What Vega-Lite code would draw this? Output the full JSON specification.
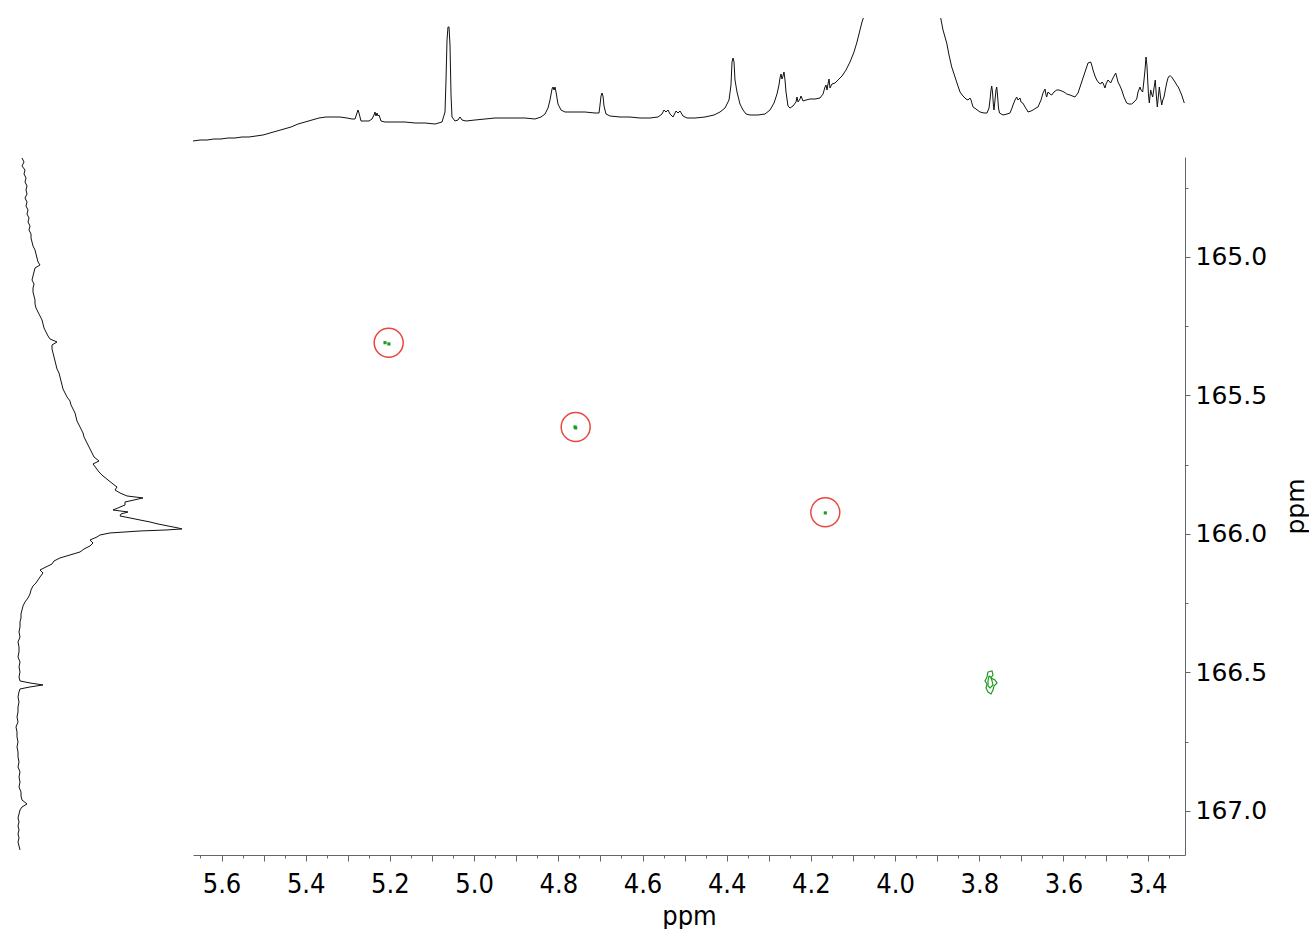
{
"$schema": "https://vega.github.io/schema/vega-lite/v6.json",
"padding": {"left": 0, "top": 18, "right": 0, "bottom": 0},
"background": "white",
"config": {"view": {"stroke": null}, "axis": {"domainWidth": 1, "tickWidth": 1, "grid": false}},
"datasets": {
"top": [
{"h":5.6677,"i":9},{"h":5.6510,"i":10},{"h":5.6344,"i":10},{"h":5.6178,"i":11},{"h":5.6012,"i":11},{"h":5.5845,"i":12},{"h":5.5679,"i":12},{"h":5.5513,"i":13},{"h":5.5347,"i":13},{"h":5.5180,"i":14},{"h":5.5014,"i":15},{"h":5.4848,"i":17},{"h":5.4681,"i":19},{"h":5.4515,"i":21},{"h":5.4349,"i":23},{"h":5.4183,"i":26},{"h":5.4016,"i":28},{"h":5.3850,"i":30},{"h":5.3684,"i":32},{"h":5.3518,"i":33},{"h":5.3351,"i":33},{"h":5.3185,"i":33},{"h":5.3019,"i":32},{"h":5.2900,"i":31},{"h":5.2829,"i":31},{"h":5.2781,"i":37},{"h":5.2757,"i":40},{"h":5.2734,"i":37},{"h":5.2686,"i":29},{"h":5.2591,"i":29},{"h":5.2496,"i":29},{"h":5.2425,"i":31},{"h":5.2377,"i":35},{"h":5.2354,"i":38},{"h":5.2330,"i":34},{"h":5.2306,"i":37},{"h":5.2282,"i":34},{"h":5.2259,"i":35},{"h":5.2211,"i":29},{"h":5.2116,"i":28},{"h":5.1879,"i":28},{"h":5.1641,"i":28},{"h":5.1404,"i":27},{"h":5.1166,"i":27},{"h":5.0928,"i":26},{"h":5.0762,"i":28},{"h":5.0691,"i":38},{"h":5.0667,"i":70},{"h":5.0643,"i":110},{"h":5.0620,"i":123},{"h":5.0596,"i":123},{"h":5.0572,"i":105},{"h":5.0548,"i":55},{"h":5.0525,"i":33},{"h":5.0453,"i":29},{"h":5.0382,"i":30},{"h":5.0335,"i":33},{"h":5.0287,"i":30},{"h":5.0192,"i":29},{"h":4.9978,"i":30},{"h":4.9741,"i":31},{"h":4.9503,"i":32},{"h":4.9266,"i":32},{"h":4.9028,"i":32},{"h":4.8791,"i":32},{"h":4.8553,"i":31},{"h":4.8411,"i":33},{"h":4.8316,"i":36},{"h":4.8244,"i":42},{"h":4.8197,"i":50},{"h":4.8149,"i":61},{"h":4.8126,"i":63},{"h":4.8102,"i":60},{"h":4.8078,"i":63},{"h":4.8054,"i":58},{"h":4.8007,"i":46},{"h":4.7936,"i":40},{"h":4.7841,"i":38},{"h":4.7603,"i":38},{"h":4.7366,"i":38},{"h":4.7128,"i":37},{"h":4.7033,"i":37},{"h":4.7009,"i":45},{"h":4.6985,"i":54},{"h":4.6962,"i":57},{"h":4.6938,"i":54},{"h":4.6914,"i":44},{"h":4.6867,"i":36},{"h":4.6772,"i":34},{"h":4.6534,"i":33},{"h":4.6297,"i":33},{"h":4.6059,"i":32},{"h":4.5822,"i":32},{"h":4.5632,"i":33},{"h":4.5537,"i":36},{"h":4.5489,"i":40},{"h":4.5442,"i":38},{"h":4.5394,"i":40},{"h":4.5347,"i":36},{"h":4.5275,"i":33},{"h":4.5204,"i":39},{"h":4.5157,"i":37},{"h":4.5109,"i":39},{"h":4.5038,"i":34},{"h":4.4943,"i":32},{"h":4.4753,"i":32},{"h":4.4515,"i":33},{"h":4.4301,"i":35},{"h":4.4159,"i":38},{"h":4.4040,"i":42},{"h":4.3945,"i":50},{"h":4.3898,"i":65},{"h":4.3874,"i":88},{"h":4.3850,"i":92},{"h":4.3826,"i":88},{"h":4.3803,"i":70},{"h":4.3755,"i":58},{"h":4.3684,"i":46},{"h":4.3613,"i":40},{"h":4.3541,"i":36},{"h":4.3446,"i":35},{"h":4.3256,"i":35},{"h":4.3090,"i":36},{"h":4.2971,"i":40},{"h":4.2876,"i":47},{"h":4.2805,"i":56},{"h":4.2758,"i":65},{"h":4.2734,"i":72},{"h":4.2710,"i":76},{"h":4.2686,"i":71},{"h":4.2662,"i":74},{"h":4.2639,"i":78},{"h":4.2615,"i":70},{"h":4.2591,"i":58},{"h":4.2544,"i":44},{"h":4.2496,"i":42},{"h":4.2425,"i":44},{"h":4.2354,"i":48},{"h":4.2330,"i":53},{"h":4.2306,"i":48},{"h":4.2259,"i":51},{"h":4.2235,"i":54},{"h":4.2187,"i":49},{"h":4.2116,"i":50},{"h":4.2021,"i":51},{"h":4.1902,"i":51},{"h":4.1784,"i":52},{"h":4.1712,"i":56},{"h":4.1665,"i":63},{"h":4.1641,"i":65},{"h":4.1617,"i":60},{"h":4.1594,"i":66},{"h":4.1570,"i":71},{"h":4.1546,"i":62},{"h":4.1499,"i":66},{"h":4.1427,"i":67},{"h":4.1356,"i":70},{"h":4.1261,"i":74},{"h":4.1166,"i":80},{"h":4.1071,"i":88},{"h":4.0976,"i":98},{"h":4.0905,"i":108},{"h":4.0834,"i":120},{"h":4.0786,"i":128},{"h":4.0738,"i":134},{"h":4.0596,"i":200},{"h":3.9883,"i":350},{"h":3.9052,"i":200},{"h":3.8917,"i":132},{"h":3.8862,"i":120},{"h":3.8774,"i":107},{"h":3.8719,"i":95},{"h":3.8655,"i":83},{"h":3.8577,"i":73},{"h":3.8506,"i":64},{"h":3.8458,"i":58},{"h":3.8387,"i":54},{"h":3.8316,"i":51},{"h":3.8268,"i":50},{"h":3.8221,"i":52},{"h":3.8197,"i":50},{"h":3.8149,"i":43},{"h":3.8078,"i":41},{"h":3.7983,"i":38},{"h":3.7888,"i":37},{"h":3.7817,"i":37},{"h":3.7769,"i":42},{"h":3.7746,"i":50},{"h":3.7722,"i":60},{"h":3.7705,"i":64},{"h":3.7686,"i":58},{"h":3.7667,"i":46},{"h":3.7651,"i":40},{"h":3.7627,"i":50},{"h":3.7603,"i":60},{"h":3.7586,"i":63},{"h":3.7567,"i":55},{"h":3.7544,"i":42},{"h":3.7520,"i":37},{"h":3.7437,"i":35},{"h":3.7342,"i":36},{"h":3.7271,"i":37},{"h":3.7223,"i":42},{"h":3.7199,"i":45},{"h":3.7152,"i":50},{"h":3.7112,"i":53},{"h":3.7081,"i":50},{"h":3.7033,"i":52},{"h":3.7009,"i":48},{"h":3.6969,"i":47},{"h":3.6938,"i":45},{"h":3.6914,"i":43},{"h":3.6867,"i":40},{"h":3.6843,"i":38},{"h":3.6772,"i":39},{"h":3.6724,"i":40},{"h":3.6653,"i":42},{"h":3.6606,"i":43},{"h":3.6534,"i":50},{"h":3.6487,"i":57},{"h":3.6439,"i":61},{"h":3.6415,"i":55},{"h":3.6399,"i":53},{"h":3.6368,"i":58},{"h":3.6320,"i":56},{"h":3.6280,"i":55},{"h":3.6226,"i":58},{"h":3.6161,"i":60},{"h":3.6107,"i":60},{"h":3.6043,"i":59},{"h":3.5988,"i":58},{"h":3.5924,"i":56},{"h":3.5846,"i":55},{"h":3.5727,"i":53},{"h":3.5655,"i":57},{"h":3.5608,"i":63},{"h":3.5560,"i":69},{"h":3.5513,"i":75},{"h":3.5465,"i":81},{"h":3.5418,"i":87},{"h":3.5354,"i":88},{"h":3.5323,"i":84},{"h":3.5299,"i":80},{"h":3.5252,"i":74},{"h":3.5211,"i":70},{"h":3.5157,"i":67},{"h":3.5116,"i":66},{"h":3.5085,"i":68},{"h":3.5062,"i":67},{"h":3.5014,"i":62},{"h":3.4990,"i":66},{"h":3.4943,"i":70},{"h":3.4879,"i":67},{"h":3.4848,"i":70},{"h":3.4824,"i":72},{"h":3.4760,"i":77},{"h":3.4729,"i":72},{"h":3.4705,"i":68},{"h":3.4658,"i":64},{"h":3.4617,"i":60},{"h":3.4563,"i":53},{"h":3.4499,"i":47},{"h":3.4444,"i":46},{"h":3.4380,"i":46},{"h":3.4325,"i":48},{"h":3.4261,"i":51},{"h":3.4230,"i":58},{"h":3.4183,"i":63},{"h":3.4159,"i":60},{"h":3.4119,"i":58},{"h":3.4088,"i":70},{"h":3.4064,"i":80},{"h":3.4040,"i":93},{"h":3.4017,"i":84},{"h":3.4000,"i":70},{"h":3.3981,"i":55},{"h":3.3962,"i":47},{"h":3.3945,"i":54},{"h":3.3929,"i":60},{"h":3.3905,"i":56},{"h":3.3881,"i":53},{"h":3.3850,"i":62},{"h":3.3820,"i":70},{"h":3.3796,"i":55},{"h":3.3772,"i":43},{"h":3.3748,"i":53},{"h":3.3724,"i":63},{"h":3.3696,"i":53},{"h":3.3667,"i":45},{"h":3.3641,"i":50},{"h":3.3613,"i":53},{"h":3.3582,"i":60},{"h":3.3549,"i":67},{"h":3.3518,"i":72},{"h":3.3487,"i":74},{"h":3.3458,"i":74},{"h":3.3430,"i":73},{"h":3.3399,"i":71},{"h":3.3351,"i":68},{"h":3.3311,"i":65},{"h":3.3273,"i":63},{"h":3.3233,"i":59},{"h":3.3192,"i":55},{"h":3.3162,"i":51},{"h":3.3131,"i":47}
],
"left": [
{"c":164.6426,"i":22},{"c":164.6570,"i":24},{"c":164.6715,"i":22},{"c":164.6859,"i":25},{"c":164.7004,"i":24},{"c":164.7148,"i":26},{"c":164.7292,"i":25},{"c":164.7437,"i":27},{"c":164.7581,"i":26},{"c":164.7726,"i":27},{"c":164.7870,"i":25},{"c":164.8014,"i":27},{"c":164.8159,"i":26},{"c":164.8303,"i":28},{"c":164.8448,"i":27},{"c":164.8592,"i":29},{"c":164.8736,"i":28},{"c":164.8881,"i":30},{"c":164.9025,"i":29},{"c":164.9170,"i":31},{"c":164.9314,"i":31},{"c":164.9458,"i":32},{"c":164.9603,"i":33},{"c":164.9747,"i":35},{"c":164.9892,"i":36},{"c":165.0036,"i":37},{"c":165.0181,"i":38},{"c":165.0289,"i":40},{"c":165.0397,"i":35},{"c":165.0542,"i":34},{"c":165.0686,"i":33},{"c":165.0830,"i":32},{"c":165.0975,"i":34},{"c":165.1119,"i":33},{"c":165.1264,"i":33},{"c":165.1408,"i":34},{"c":165.1552,"i":35},{"c":165.1697,"i":35},{"c":165.1841,"i":36},{"c":165.1986,"i":38},{"c":165.2130,"i":40},{"c":165.2274,"i":42},{"c":165.2419,"i":43},{"c":165.2563,"i":44},{"c":165.2708,"i":46},{"c":165.2852,"i":48},{"c":165.2960,"i":50},{"c":165.3069,"i":57},{"c":165.3177,"i":52},{"c":165.3321,"i":52},{"c":165.3466,"i":53},{"c":165.3610,"i":54},{"c":165.3755,"i":55},{"c":165.3899,"i":56},{"c":165.4043,"i":57},{"c":165.4188,"i":59},{"c":165.4332,"i":60},{"c":165.4477,"i":61},{"c":165.4621,"i":62},{"c":165.4765,"i":63},{"c":165.4910,"i":65},{"c":165.5054,"i":67},{"c":165.5199,"i":70},{"c":165.5343,"i":71},{"c":165.5487,"i":73},{"c":165.5632,"i":75},{"c":165.5776,"i":76},{"c":165.5921,"i":77},{"c":165.6065,"i":79},{"c":165.6209,"i":81},{"c":165.6354,"i":83},{"c":165.6498,"i":84},{"c":165.6643,"i":86},{"c":165.6787,"i":88},{"c":165.6931,"i":90},{"c":165.7076,"i":92},{"c":165.7220,"i":94},{"c":165.7365,"i":99},{"c":165.7473,"i":93},{"c":165.7617,"i":96},{"c":165.7762,"i":99},{"c":165.7906,"i":103},{"c":165.8051,"i":108},{"c":165.8195,"i":113},{"c":165.8303,"i":117},{"c":165.8412,"i":115},{"c":165.8520,"i":120},{"c":165.8628,"i":127},{"c":165.8700,"i":143},{"c":165.8773,"i":134},{"c":165.8845,"i":125},{"c":165.8953,"i":125},{"c":165.9061,"i":118},{"c":165.9134,"i":113},{"c":165.9206,"i":128},{"c":165.9278,"i":121},{"c":165.9350,"i":120},{"c":165.9422,"i":130},{"c":165.9495,"i":140},{"c":165.9567,"i":150},{"c":165.9639,"i":158},{"c":165.9711,"i":168},{"c":165.9783,"i":178},{"c":165.9819,"i":182},{"c":165.9856,"i":166},{"c":165.9892,"i":140},{"c":165.9928,"i":125},{"c":165.9964,"i":110},{"c":166.0036,"i":100},{"c":166.0108,"i":97},{"c":166.0217,"i":90},{"c":166.0325,"i":93},{"c":166.0433,"i":90},{"c":166.0542,"i":84},{"c":166.0650,"i":80},{"c":166.0758,"i":70},{"c":166.0866,"i":60},{"c":166.0975,"i":54},{"c":166.1083,"i":52},{"c":166.1191,"i":46},{"c":166.1300,"i":40},{"c":166.1408,"i":43},{"c":166.1552,"i":40},{"c":166.1661,"i":38},{"c":166.1769,"i":36},{"c":166.1877,"i":33},{"c":166.2022,"i":31},{"c":166.2166,"i":30},{"c":166.2310,"i":28},{"c":166.2455,"i":25},{"c":166.2599,"i":23},{"c":166.2744,"i":22},{"c":166.2888,"i":21},{"c":166.3032,"i":21},{"c":166.3177,"i":20},{"c":166.3357,"i":20},{"c":166.3538,"i":19},{"c":166.3718,"i":20},{"c":166.3899,"i":18},{"c":166.4079,"i":19},{"c":166.4260,"i":19},{"c":166.4440,"i":18},{"c":166.4621,"i":20},{"c":166.4801,"i":19},{"c":166.4982,"i":20},{"c":166.5162,"i":19},{"c":166.5307,"i":20},{"c":166.5379,"i":30},{"c":166.5451,"i":43},{"c":166.5523,"i":30},{"c":166.5596,"i":20},{"c":166.5704,"i":19},{"c":166.5884,"i":18},{"c":166.6065,"i":19},{"c":166.6245,"i":18},{"c":166.6426,"i":18},{"c":166.6606,"i":17},{"c":166.6787,"i":18},{"c":166.6967,"i":16},{"c":166.7148,"i":17},{"c":166.7328,"i":17},{"c":166.7509,"i":18},{"c":166.7689,"i":17},{"c":166.7870,"i":18},{"c":166.8051,"i":18},{"c":166.8231,"i":19},{"c":166.8412,"i":18},{"c":166.8592,"i":20},{"c":166.8773,"i":19},{"c":166.8953,"i":20},{"c":166.9134,"i":19},{"c":166.9314,"i":21},{"c":166.9458,"i":21},{"c":166.9603,"i":22},{"c":166.9747,"i":27},{"c":166.9856,"i":22},{"c":166.9964,"i":20},{"c":167.0108,"i":19},{"c":167.0253,"i":18},{"c":167.0397,"i":19},{"c":167.0542,"i":18},{"c":167.0686,"i":19},{"c":167.0830,"i":18},{"c":167.0975,"i":19},{"c":167.1119,"i":18},{"c":167.1264,"i":19},{"c":167.1408,"i":20}
],
"peaks": [
{"h":5.2116,"c":165.3094},{"h":5.2024,"c":165.3140},{"h":4.7603,"c":165.6137},{"h":4.7587,"c":165.6170},{"h":4.1658,"c":165.9240}
],
"circles": [
{"h":5.2029,"c":165.3094},{"h":4.7587,"c":165.6137},{"h":4.1658,"c":165.9217}
],
"contour": [
{"ring":"outer","k":1,"h":3.7793,"c":166.4982},{"ring":"outer","k":2,"h":3.7698,"c":166.4946},{"ring":"outer","k":3,"h":3.7675,"c":166.5090},{"ring":"outer","k":4,"h":3.7722,"c":166.5199},{"ring":"outer","k":5,"h":3.7627,"c":166.5270},{"ring":"outer","k":6,"h":3.7580,"c":166.5379},{"ring":"outer","k":7,"h":3.7651,"c":166.5487},{"ring":"outer","k":8,"h":3.7675,"c":166.5632},{"ring":"outer","k":9,"h":3.7722,"c":166.5776},{"ring":"outer","k":10,"h":3.7793,"c":166.5704},{"ring":"outer","k":11,"h":3.7841,"c":166.5560},{"ring":"outer","k":12,"h":3.7817,"c":166.5415},{"ring":"outer","k":13,"h":3.7865,"c":166.5307},{"ring":"outer","k":14,"h":3.7817,"c":166.5162},{"ring":"outer","k":15,"h":3.7793,"c":166.4982},
{"ring":"inner","k":1,"h":3.7770,"c":166.5126},{"ring":"inner","k":2,"h":3.7722,"c":166.5162},{"ring":"inner","k":3,"h":3.7698,"c":166.5307},{"ring":"inner","k":4,"h":3.7675,"c":166.5451},{"ring":"inner","k":5,"h":3.7746,"c":166.5560},{"ring":"inner","k":6,"h":3.7793,"c":166.5487},{"ring":"inner","k":7,"h":3.7793,"c":166.5307},{"ring":"inner","k":8,"h":3.7770,"c":166.5126}
]
},
"spacing": 5,
"vconcat": [
{
"width": 1185, "height": 132,
"data": {"name": "top"},
"mark": {"type": "line", "color": "#111111", "strokeWidth": 1, "clip": true},
"encoding": {
"x": {"field": "h", "type": "quantitative", "scale": {"domain": [3.3114, 6.1261], "reverse": true, "nice": false, "zero": false}, "axis": null},
"y": {"field": "i", "type": "quantitative", "scale": {"domain": [0, 132], "nice": false, "zero": false}, "axis": null}
}
},
{
"spacing": 8,
"hconcat": [
{
"width": 185, "height": 698,
"data": {"name": "left"},
"mark": {"type": "line", "color": "#111111", "strokeWidth": 1},
"encoding": {
"x": {"field": "i", "type": "quantitative", "scale": {"domain": [0, 185], "nice": false, "zero": false}, "axis": null},
"y": {"field": "c", "type": "quantitative", "scale": {"domain": [164.639, 167.159], "reverse": true, "nice": false, "zero": false}, "axis": null},
"order": {"field": "c", "type": "quantitative"}
}
},
{
"width": 992, "height": 698,
"encoding": {
"x": {"field": "h", "type": "quantitative", "title": "ppm",
"scale": {"domain": [3.3114, 5.6677], "reverse": true, "nice": false, "zero": false},
"axis": {"orient": "bottom",
"values": [5.65,5.6,5.55,5.5,5.45,5.4,5.35,5.3,5.25,5.2,5.15,5.1,5.05,5.0,4.95,4.9,4.85,4.8,4.75,4.7,4.65,4.6,4.55,4.5,4.45,4.4,4.35,4.3,4.25,4.2,4.15,4.1,4.05,4.0,3.95,3.9,3.85,3.8,3.75,3.7,3.65,3.6,3.55,3.5,3.45,3.4,3.35],
"labelExpr": "abs(datum.value*5 - round(datum.value*5)) < 0.01 ? format(datum.value, '.1f') : ''",
"labelOverlap": false, "labelFlush": false,
"tickSize": {"condition": {"test": "abs(datum.value*10 - round(datum.value*10)) < 0.01", "value": 6}, "value": 3},
"labelPadding": 10, "labelFont": "DejaVu Sans Condensed, DejaVu Sans", "labelFontSize": 27, "labelColor": "#000000",
"titleFont": "DejaVu Sans Condensed, DejaVu Sans", "titleFontSize": 27, "titleFontWeight": "normal", "titleColor": "#000000", "titlePadding": 6,
"domainColor": "#666666", "tickColor": "#666666"}},
"y": {"field": "c", "type": "quantitative", "title": "ppm",
"scale": {"domain": [164.639, 167.159], "reverse": true, "nice": false, "zero": false},
"axis": {"orient": "right",
"values": [164.75,165.0,165.25,165.5,165.75,166.0,166.25,166.5,166.75,167.0],
"labelExpr": "abs(datum.value*2 - round(datum.value*2)) < 0.01 ? format(datum.value, '.1f') : ''",
"labelOverlap": false, "labelFlush": false,
"tickSize": {"condition": {"test": "abs(datum.value*2 - round(datum.value*2)) < 0.01", "value": 5}, "value": 3},
"labelPadding": 5, "labelFont": "DejaVu Sans", "labelFontSize": 25, "labelColor": "#000000", "labelBaseline": "middle",
"titleFont": "DejaVu Sans", "titleFontSize": 25, "titleFontWeight": "normal", "titleColor": "#000000", "titleAngle": 270, "titlePadding": 42,
"domainColor": "#666666", "tickColor": "#666666"}}
},
"layer": [
{"data": {"name": "contour"}, "mark": {"type": "line", "color": "#1f9b1f", "strokeWidth": 1.2}, "encoding": {"order": {"field": "k", "type": "quantitative"}, "detail": {"field": "ring", "type": "nominal"}}},
{"data": {"name": "peaks"}, "mark": {"type": "point", "shape": "square", "filled": true, "color": "#1f9b1f", "size": 10, "opacity": 1}},
{"data": {"name": "circles"}, "mark": {"type": "point", "shape": "circle", "filled": false, "color": "#e8483f", "strokeWidth": 1.5, "size": 841, "opacity": 1}}
]
}
]
}
]
}
